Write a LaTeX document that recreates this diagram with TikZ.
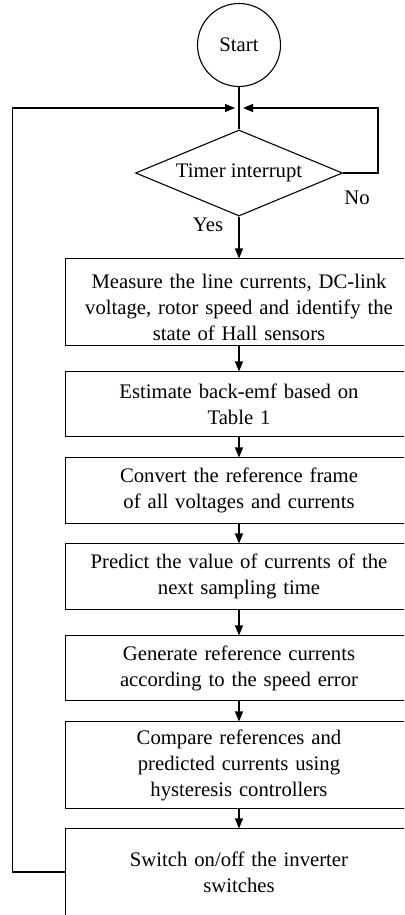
\documentclass[tikz,border=0pt]{standalone}
\usepackage{fontspec}
\setmainfont{Liberation Serif}
\usetikzlibrary{shapes.geometric,arrows.meta}
\begin{document}
\begin{tikzpicture}[x=1pt,y=-1pt,
  line width=1.1pt,
  font=\fontsize{20.7}{26}\selectfont,
  flow/.style={-{Triangle[length=10pt,width=8pt]}},
  stepbox/.style={rectangle,minimum width=346pt,align=center,inner sep=0pt,text width=340pt},
  lbl/.style={inner sep=0pt}]
\useasboundingbox (0,0) rectangle (404,915);
\clip (0,0) rectangle (404,915);
\node[draw,circle,minimum size=83pt,inner sep=0pt] (start) at (239,45) {Start};
\node[draw,diamond,aspect=2.4,minimum width=207pt,minimum height=86pt,inner sep=0pt] (dec) at (239,173) {Timer interrupt};
\coordinate (merge) at (239,108);
\coordinate (lc) at (12.5,108);
\coordinate (rc) at (378,108);
\node[stepbox,minimum height=86pt] (b1) at (239,307) {Measure the line currents, DC-link\\voltage, rotor speed and identify the\\state of Hall sensors};
\node[stepbox,minimum height=64pt] (b2) at (239,404) {Estimate back-emf based on\\Table 1};
\node[stepbox,minimum height=65pt] (b3) at (239,490.5) {Convert the reference frame\\of all voltages and currents};
\node[stepbox,minimum height=65pt] (b4) at (239,576.5) {Predict the value of currents of the\\next sampling time};
\node[stepbox,minimum height=64pt] (b5) at (239,668) {Generate reference currents\\according to the speed error};
\node[stepbox,minimum height=86pt] (b6) at (239,765) {Compare references and\\predicted currents using\\hysteresis controllers};
\node[stepbox,minimum height=86pt] (b7) at (239,872) {Switch on/off the inverter\\switches};
\draw ([yshift=5pt]b1.north west) rectangle ([xshift=30pt,yshift=5pt]b1.south east);
\foreach \b in {b2,b3,b4,b5,b6}
  \draw (\b.north west) rectangle ([xshift=30pt]\b.south east);
\draw ([yshift=-30pt]b7.south west) -- (b7.north west) -- ([xshift=30pt]b7.north east);
\draw (start.south) -- (dec.north);
\draw[flow] (dec.south) -- ([yshift=5pt]b1.north);
\draw[flow] ([yshift=5pt]b1.south) -- (b2.north);
\draw[flow] (b2.south) -- (b3.north);
\draw[flow] (b3.south) -- (b4.north);
\draw[flow] (b4.south) -- (b5.north);
\draw[flow] (b5.south) -- (b6.north);
\draw[flow] (b6.south) -- (b7.north);
\draw[flow] (b7.west) -| (lc) -- ([xshift=-4pt]merge);
\draw[flow] (dec.east) -| (rc) -- ([xshift=4pt]merge);
\node[lbl] (no) at (357,198) {No};
\node[lbl] (yes) at (208,225) {Yes};
\end{tikzpicture}
\end{document}
